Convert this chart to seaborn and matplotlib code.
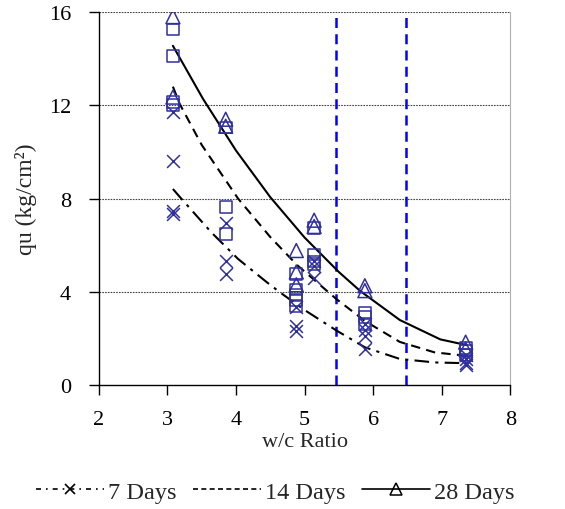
import numpy as np
import pandas as pd
import matplotlib
matplotlib.use("Agg")
import matplotlib.pyplot as plt
from matplotlib.lines import Line2D
import seaborn as sns

# ---- data ----
x7 = [3.08, 3.08, 3.08, 3.08, 3.85, 3.85, 3.85, 4.88, 4.88, 4.88, 5.14, 5.14, 5.14,
      5.88, 5.88, 5.88, 5.88, 7.35, 7.35, 7.35, 7.35]
y7 = [11.7, 9.6, 7.45, 7.35, 6.95, 5.3, 4.76, 3.35, 2.53, 2.3, 5.3, 5.1, 4.6,
      2.6, 2.35, 2.1, 1.55, 1.3, 1.1, 0.95, 0.85]

x14 = [3.08, 3.08, 3.08, 3.08, 3.85, 3.85, 3.85, 4.88, 4.88, 4.88, 4.88, 4.88,
       5.14, 5.14, 5.14, 5.14, 5.88, 5.88, 5.88, 7.35, 7.35, 7.35]
y14 = [15.25, 14.12, 12.15, 12.0, 11.05, 7.64, 6.48, 4.76, 4.1, 3.85, 3.65, 3.4,
       6.75, 5.6, 5.3, 5.2, 3.1, 2.92, 2.62, 1.6, 1.45, 1.3]

x28 = [3.08, 3.08, 3.85, 3.85, 4.88, 4.88, 4.88, 5.14, 5.14, 5.88, 5.88, 7.35, 7.35]
y28 = [15.8, 12.35, 11.4, 11.1, 5.77, 4.85, 4.3, 7.07, 6.8, 4.26, 4.05, 1.84, 1.55]

# trend curves
cx7 = [3.08, 3.18, 3.64, 4.03, 4.45, 4.64, 5.0, 5.46, 5.88, 6.39, 6.9, 7.33]
cy7 = [8.41, 8.07, 6.55, 5.41, 4.41, 3.98, 3.22, 2.35, 1.62, 1.12, 0.97, 0.94]

cx14 = [3.08, 3.18, 3.5, 4.03, 4.5, 4.89, 5.46, 5.88, 6.39, 6.9, 7.35]
cy14 = [12.8, 12.05, 10.3, 8.0, 6.35, 5.15, 3.7, 2.75, 1.85, 1.4, 1.26]

cx28 = [3.08, 3.52, 4.0, 4.5, 5.0, 5.5, 5.81, 6.39, 6.98, 7.37]
cy28 = [14.55, 12.27, 10.06, 8.06, 6.33, 4.85, 4.04, 2.79, 1.96, 1.71]

vlines = [5.46, 6.48]
xticks = [2, 3, 4, 5, 6, 7, 8]
yticks = [0, 4, 8, 12, 16]
labels = ["7 Days", "14 Days", "28 Days"]

# ---- style ----
sns.set_style("white")
plt.rcParams["font.family"] = ["Liberation Serif", "DejaVu Serif"]

navy = "#30309c"
fig = plt.figure(figsize=(5.65, 5.10), dpi=100)
ax = fig.add_axes([0.175, 0.243, 0.728, 0.7315])

# grid
for yv in yticks[1:]:
    ax.axhline(yv, color="#444444", lw=0.8, ls=(0, (1.5, 1.0)), zorder=0)

# vertical dashed blue lines
for xv in vlines:
    ax.axvline(xv, color="#0000ff", lw=1.8, ls=(0, (4, 2.5)), zorder=1)

# curves
sns.lineplot(x=cx7, y=cy7, sort=False, estimator=None, color="black", lw=1.5,
             ls=(0, (7, 3, 1.5, 3)), ax=ax, zorder=2)
sns.lineplot(x=cx14, y=cy14, sort=False, estimator=None, color="black", lw=1.5,
             ls=(0, (4.5, 3)), ax=ax, zorder=2)
sns.lineplot(x=cx28, y=cy28, sort=False, estimator=None, color="black", lw=1.5,
             ls="-", ax=ax, zorder=2)

# scatter points
sns.scatterplot(x=x7, y=y7, marker="x", color=navy, s=85, linewidth=1.1, ax=ax, zorder=3)
sns.scatterplot(x=x14, y=y14, marker="s", s=72, facecolor="none", edgecolor=navy,
                linewidth=1.1, ax=ax, zorder=3)
sns.scatterplot(x=x28, y=y28, marker="^", s=100, facecolor="none", edgecolor=navy,
                linewidth=1.1, ax=ax, zorder=3)

ax.set_xlim(2, 8)
ax.set_ylim(0, 16)
ax.set_xticks(xticks)
ax.set_yticks(yticks)
ax.tick_params(axis="both", direction="out", length=7, width=1, labelsize=16,
               colors="black", bottom=True, left=True)
ax.tick_params(axis="x", pad=11)
ax.tick_params(axis="y", pad=13)
ax.set_xlabel("w/c Ratio", fontsize=16)
ax.xaxis.set_label_coords(0.5, -0.125)
ax.set_ylabel("qu (kg/cm²)", fontsize=17)
ax.yaxis.set_label_coords(-0.15, 0.5)

ax.spines["top"].set_visible(False)
ax.spines["right"].set_color("#b0b0b0")
ax.spines["left"].set_color("black")
ax.spines["bottom"].set_color("black")
ax.spines["left"].set_linewidth(1)
ax.spines["bottom"].set_linewidth(1)

handles = [
    Line2D([], [], color="black", lw=1.2, ls=(0, (3, 3, 1, 3)), marker="x",
           markersize=7, markeredgewidth=1.2),
    Line2D([], [], color="black", lw=1.2, ls=(0, (3, 2))),
    Line2D([], [], color="black", lw=1.2, ls="-", marker="^", markersize=8,
           markerfacecolor="none", markeredgewidth=1.1),
]
fig.legend(handles, labels, loc="center", bbox_to_anchor=(0.487, 0.034), ncol=3,
           frameon=False, fontsize=17.5, handlelength=2.8, handletextpad=0.15,
           columnspacing=0.7)

fig.savefig("out.png", dpi=100)
